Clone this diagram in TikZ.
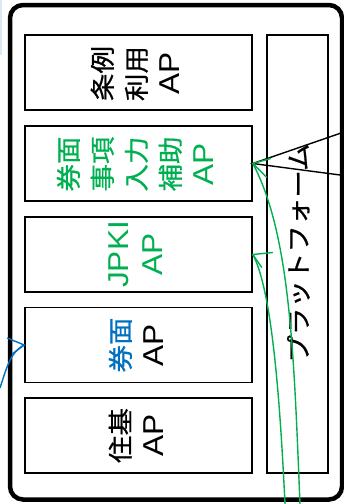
\documentclass[tikz,border=0pt]{standalone}
\usepackage{fontspec}
\setmainfont{Noto Sans CJK JP}[FakeBold=0.7]
\newfontfamily\lat{Liberation Sans}[Scale=1.15]
\usetikzlibrary{calc}
\definecolor{pgreen}{RGB}{0,176,80}
\definecolor{pblue}{RGB}{0,112,192}
\newcommand\stx[1]{\scalebox{1.1}[1]{\begin{tabular}{@{}c@{}}#1\end{tabular}}}
\begin{document}
\begin{tikzpicture}[x=1pt,y=-1pt,
  apbox/.style={draw,line width=1.6pt,inner sep=0pt,minimum width=227pt,minimum height=75pt},
  lbl/.style={rotate=90,font=\fontsize{25}{34}\selectfont,inner sep=0pt},
  conn/.style={line width=1.4pt},
  gline/.style={pgreen,line width=1.4pt},
  bline/.style={pblue,line width=1.4pt}]
\useasboundingbox (0,0) rectangle (344,504);
% faint cropped mark at top left
\draw[pblue!15,line width=1.5pt] (1,0) -- (1,55);
% outer frame
\draw[line width=4.5pt,rounded corners=13pt] (10,5) rectangle (342,499.5);
% AP boxes
\node[apbox] (jorei) at (138.5,72.5) {};
\node[apbox] (hojo) at (138.5,163.5) {};
\node[apbox] (jpki) at (138.5,254.5) {};
\node[apbox] (kenmen) at (138.5,345) {};
\node[apbox] (juki) at (138.5,435.5) {};
\node[draw,line width=1.6pt,inner sep=0pt,minimum width=61pt,minimum height=438pt] (pf) at (297.5,254) {};
% labels
\node[lbl] (t1) at (139,73.5) {\stx{条例\\利用\\{\lat AP}}};
\node[lbl,text=pgreen] (t2) at (139,164) {\stx{券面\\事項\\入力\\補助\\{\lat AP}}};
\node[lbl,text=pgreen] (t3) at (139,254.5) {\stx{{\lat JPKI}\\{\lat AP}}};
\node[lbl] (t4) at (140,345) {\stx{\textcolor{pblue}{券面}\\{\lat AP}}};
\node[lbl] (t5) at (140,435.5) {\stx{住基\\{\lat AP}}};
\node[lbl] (t6) at (301,253) {\stx{プラットフォーム}};
% black connectors from outside
\coordinate (b1) at (344,132);
\coordinate (b2) at (344,175.5);
\draw[conn] (b1) -- (hojo.east) -- (b2);
% green connectors
\coordinate (g1) at (300,504);
\coordinate (g2) at (285,504);
\draw[gline] (g1) .. controls (294,360) and (291,235) .. (hojo.east);
\draw[gline] ($(hojo.east)+(18,-5)$) -- (hojo.east) -- ($(hojo.east)+(14,14)$);
\draw[gline] (g2) .. controls (280,400) and (272,290) .. (jpki.east);
\draw[gline] ($(jpki.east)+(20,-2)$) -- (jpki.east) -- ($(jpki.east)+(9,13)$);
% blue connector
\coordinate (bl) at (0,388);
\draw[bline] (bl) .. controls (6,370) and (10,352) .. (kenmen.west);
\draw[bline] ($(kenmen.west)+(-17,-7)$) -- (kenmen.west) -- ($(kenmen.west)+(-12,9)$);
\end{tikzpicture}
\end{document}
